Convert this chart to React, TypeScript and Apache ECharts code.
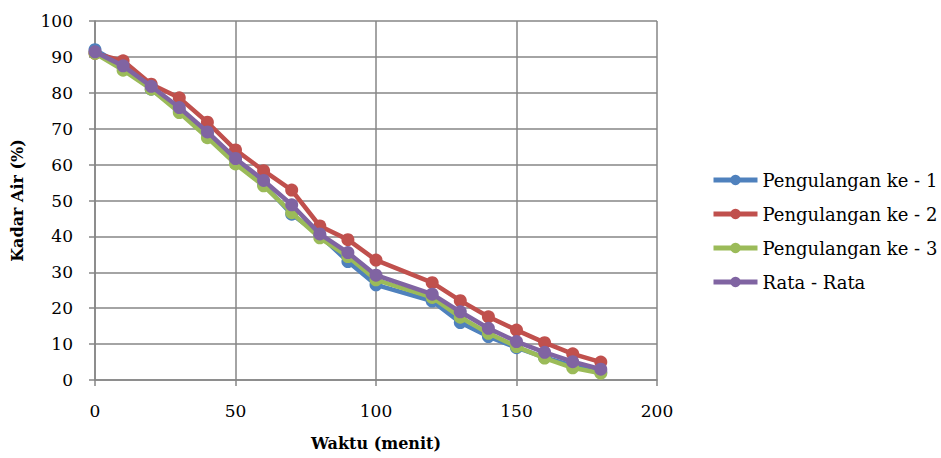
import React, { useEffect, useRef } from "react";
import * as echarts from "echarts";

const waktu = [0, 10, 20, 30, 40, 50, 60, 70, 80, 90, 100, 120, 130, 140, 150, 160, 170, 180];
const ulangan1 = [92, 87.5, 81, 75, 68.5, 61.5, 54.5, 46.2, 40.3, 33, 26.5, 22, 16, 12.1, 9, 6.3, 4, 2.2];
const ulangan2 = [91, 88.9, 82.4, 78.6, 71.8, 64.1, 58.3, 52.9, 42.9, 39.1, 33.4, 27.1, 22.1, 17.6, 13.9, 10.4, 7.3, 5.0];
const ulangan3 = [91, 86.3, 81, 74.5, 67.5, 60.2, 54.1, 46.6, 39.6, 34.4, 27.9, 23, 17.5, 13, 9.3, 6.1, 3.4, 1.9];
const rataRata = [91.4, 87.5, 81.8, 75.9, 69.1, 61.7, 55.6, 48.8, 40.7, 35.5, 29.2, 23.9, 19, 14.4, 10.7, 7.7, 5.1, 3.0];

const seriesNames = ["Pengulangan ke - 1", "Pengulangan ke - 2", "Pengulangan ke - 3", "Rata - Rata"];
const seriesColors = ["#4F81BD", "#C0504D", "#9BBB59", "#8064A2"];
const seriesValues = [ulangan1, ulangan2, ulangan3, rataRata];

const FONT = "DejaVu Serif";

export default function App() {
  const ref = useRef<HTMLDivElement>(null);
  useEffect(() => {
    document.body.style.margin = "0";
    if (!ref.current) return;
    const chart = echarts.init(ref.current, undefined, { renderer: "svg" });
    chart.setOption({
      animation: false,
      backgroundColor: "#ffffff",
      textStyle: { fontFamily: FONT },
      grid: { left: 95, right: 284, top: 21, bottom: 78, containLabel: false },
      legend: {
        orient: "vertical",
        left: 706,
        top: 166,
        itemWidth: 44,
        itemHeight: 13,
        itemGap: 16,
        lineStyle: { width: 5 },
        textStyle: { fontFamily: FONT, fontSize: 18, color: "#000" },
        data: seriesNames,
      },
      xAxis: {
        type: "value",
        min: 0,
        max: 200,
        interval: 50,
        name: "Waktu (menit)",
        nameLocation: "middle",
        nameGap: 55,
        nameTextStyle: { fontFamily: FONT, fontSize: 16, fontWeight: "bold", color: "#000" },
        axisLine: { lineStyle: { color: "#868686", width: 1.5 } },
        axisTick: { show: true, length: 6, lineStyle: { color: "#868686", width: 1.5 } },
        axisLabel: { fontFamily: FONT, fontSize: 17, color: "#000", margin: 22 },
        splitLine: { show: true, lineStyle: { color: "#868686", width: 1.5 } },
      },
      yAxis: {
        type: "value",
        min: 0,
        max: 100,
        interval: 10,
        name: "Kadar Air (%)",
        nameLocation: "middle",
        nameGap: 70,
        nameRotate: 90,
        nameTextStyle: { fontFamily: FONT, fontSize: 16, fontWeight: "bold", color: "#000" },
        axisLine: { show: true, lineStyle: { color: "#868686", width: 1.5 } },
        axisTick: { show: true, length: 6, lineStyle: { color: "#868686", width: 1.5 } },
        axisLabel: { fontFamily: FONT, fontSize: 17, color: "#000", margin: 22 },
        splitLine: { show: true, lineStyle: { color: "#868686", width: 1.5 } },
      },
      series: seriesValues.map((vals, i) => ({
        name: seriesNames[i],
        type: "line",
        data: waktu.map((x, j) => [x, vals[j]]),
        color: seriesColors[i],
        symbol: "circle",
        symbolSize: 13,
        lineStyle: { width: 4.5, color: seriesColors[i] },
        itemStyle: { color: seriesColors[i] },
        z: 2 + i,
      })),
    });
    return () => chart.dispose();
  }, []);
  return <div ref={ref} style={{ width: 941, height: 458 }} />;
}
